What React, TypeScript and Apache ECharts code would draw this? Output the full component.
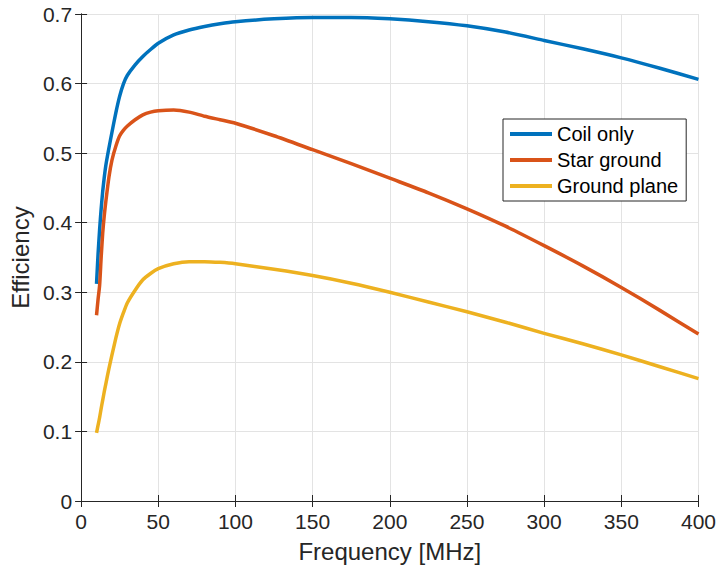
import React, { useEffect, useRef } from "react";
import * as echarts from "echarts";

const frequency = [10, 11, 12, 13, 14, 15, 16, 18, 20, 22.5, 25, 27.5, 30, 35, 40, 45, 50, 60, 70, 80, 90, 100, 125, 150, 175, 200, 225, 250, 275, 300, 325, 350, 375, 400];
const coilOnly = [0.312, 0.355, 0.39, 0.42, 0.445, 0.465, 0.482, 0.507, 0.53, 0.558, 0.582, 0.6, 0.612, 0.627, 0.639, 0.649, 0.658, 0.67, 0.677, 0.682, 0.686, 0.689, 0.693, 0.695, 0.695, 0.693, 0.689, 0.683, 0.674, 0.662, 0.65, 0.637, 0.622, 0.606];
const starGround = [0.267, 0.29, 0.31, 0.35, 0.385, 0.41, 0.43, 0.465, 0.49, 0.51, 0.525, 0.533, 0.539, 0.548, 0.555, 0.559, 0.561, 0.562, 0.559, 0.553, 0.548, 0.543, 0.525, 0.505, 0.485, 0.464, 0.443, 0.42, 0.395, 0.367, 0.338, 0.307, 0.274, 0.24];
const groundPlane = [0.098, 0.109, 0.12, 0.133, 0.145, 0.157, 0.168, 0.19, 0.21, 0.234, 0.255, 0.271, 0.285, 0.303, 0.318, 0.327, 0.334, 0.341, 0.344, 0.344, 0.343, 0.341, 0.333, 0.324, 0.313, 0.3, 0.286, 0.272, 0.257, 0.241, 0.226, 0.21, 0.193, 0.176];
const seriesNames = ["Coil only", "Star ground", "Ground plane"];
const colors = ["#0072BD", "#D95319", "#EDB120"];

const FONT = "'Liberation Sans', Arial, Helvetica, sans-serif";
const AX = "#262626";

export default function App() {
  const ref = useRef<HTMLDivElement>(null);
  useEffect(() => {
    if (!ref.current) return;
    const chart = echarts.init(ref.current, null, { renderer: "svg" });
    const mk = (vals: number[]) => frequency.map((f, i) => [f, vals[i]]);
    const allData = [coilOnly, starGround, groundPlane];
    const baseX = {
      type: "value" as const,
      min: 0,
      max: 400,
      interval: 50,
      axisLine: { show: true, lineStyle: { color: AX, width: 1 } },
      axisTick: { show: true, inside: true, length: 6, lineStyle: { color: AX } },
    };
    const baseY = {
      type: "value" as const,
      min: 0,
      max: 0.7,
      interval: 0.1,
      axisLine: { show: true, lineStyle: { color: AX, width: 1 } },
      axisTick: { show: true, inside: true, length: 6, lineStyle: { color: AX } },
    };
    chart.setOption({
      animation: false,
      backgroundColor: "#ffffff",
      grid: { left: 81, right: 20, top: 14, bottom: 68, containLabel: false },
      legend: {
        orient: "vertical",
        left: 503,
        top: 119,
        padding: [5, 8, 5, 7],
        itemGap: 6,
        itemWidth: 42,
        itemHeight: 4,
        icon: "rect",
        backgroundColor: "#ffffff",
        borderColor: AX,
        borderWidth: 1,
        borderRadius: 0,
        textStyle: { fontFamily: FONT, fontSize: 20, color: "#000", lineHeight: 20, padding: [0, 0, 0, 0] },
        data: seriesNames,
      },
      xAxis: [
        {
          ...baseX,
          position: "bottom",
          name: "Frequency [MHz]",
          nameLocation: "middle",
          nameGap: 38,
          nameTextStyle: { fontFamily: FONT, fontSize: 24, color: AX },
          axisLabel: { fontFamily: FONT, fontSize: 21, color: AX, margin: 10 },
          splitLine: { show: true, lineStyle: { color: "#e3e3e3", width: 1 } },
        },
        {
          ...baseX,
          position: "top",
          axisLabel: { show: false },
          splitLine: { show: false },
        },
      ],
      yAxis: [
        {
          ...baseY,
          position: "left",
          name: "Efficiency",
          nameLocation: "middle",
          nameGap: 44,
          nameTextStyle: { fontFamily: FONT, fontSize: 24, color: AX },
          axisLabel: {
            fontFamily: FONT,
            fontSize: 21,
            color: AX,
            margin: 9,
            formatter: (v: number) => (Math.round(v * 10) / 10).toString(),
          },
          splitLine: { show: true, lineStyle: { color: "#e3e3e3", width: 1 } },
        },
        {
          ...baseY,
          position: "right",
          axisLabel: { show: false },
          splitLine: { show: false },
        },
      ],
      series: seriesNames.map((name, i) => ({
        name,
        type: "line",
        xAxisIndex: 0,
        yAxisIndex: 0,
        data: mk(allData[i]),
        showSymbol: false,
        symbol: "none",
        smooth: 0.2,
        color: colors[i],
        lineStyle: { color: colors[i], width: 3.5, join: "round" },
        z: 3,
      })),
    });
    return () => chart.dispose();
  }, []);
  return (
    <div
      ref={ref}
      style={{ position: "fixed", left: 0, top: 0, width: 719, height: 569, background: "#fff" }}
    />
  );
}
